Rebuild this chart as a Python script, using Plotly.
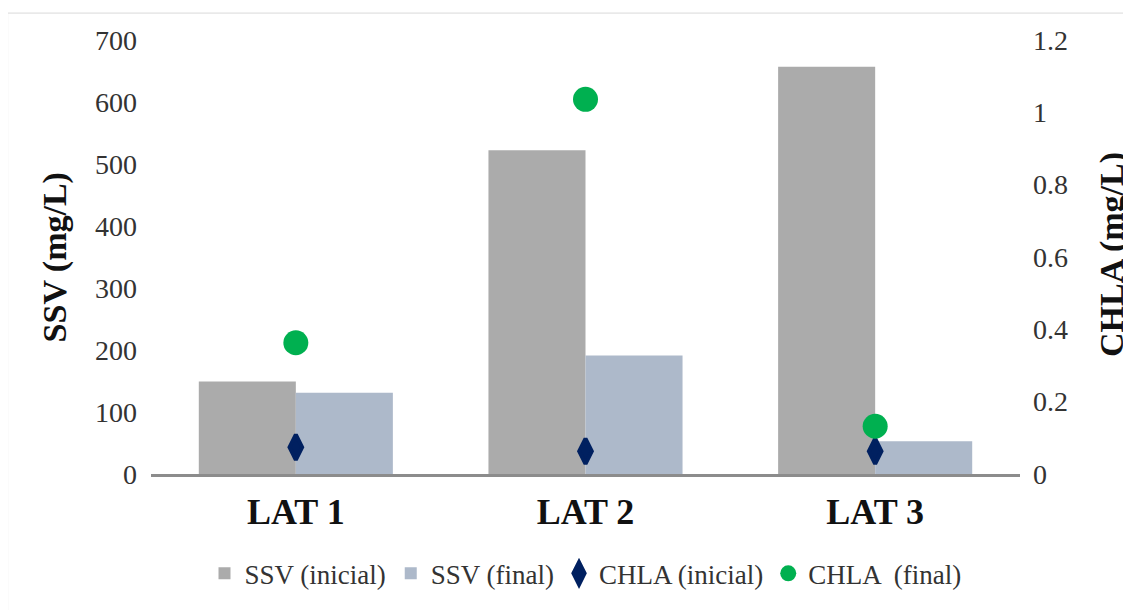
import plotly.graph_objects as go

categories = ["LAT 1", "LAT 2", "LAT 3"]
ssv_inicial = [149, 522, 657]
ssv_final = [131, 191, 53]
chla_inicial = [0.074, 0.063, 0.063]
chla_final = [0.363, 1.036, 0.132]
left_ticks = [0, 100, 200, 300, 400, 500, 600, 700]
right_ticks = [0, 0.2, 0.4, 0.6, 0.8, 1.0, 1.2]
right_labels = ["0", "0.2", "0.4", "0.6", "0.8", "1", "1.2"]

font = "Liberation Serif, Times New Roman, serif"

fig = go.Figure()
fig.add_trace(go.Bar(name="SSV (inicial)", x=categories, y=ssv_inicial,
                     marker=dict(color="#ababab", line=dict(width=0))))
fig.add_trace(go.Bar(name="SSV (final)", x=categories, y=ssv_final,
                     marker=dict(color="#adb9ca", line=dict(width=0))))
fig.add_trace(go.Scatter(name="CHLA (inicial)", x=categories, y=chla_inicial, yaxis="y2",
                         mode="markers",
                         marker=dict(symbol="diamond-tall", size=18, color="#002060",
                                     line=dict(color="#002060", width=4))))
fig.add_trace(go.Scatter(name="CHLA  (final)", x=categories, y=chla_final, yaxis="y2",
                         mode="markers",
                         marker=dict(symbol="circle", size=25, color="#00b050")))

# page body has an 8px margin: figure is sized/offset to compensate
fig.update_layout(
    width=1123, height=602,
    margin=dict(l=143, r=111, t=32, b=125),
    paper_bgcolor="white", plot_bgcolor="white",
    barmode="group", bargap=0.33, bargroupgap=0,
    font=dict(family=font, size=28, color="#333333"),
    showlegend=True,
    legend=dict(orientation="h", x=0.5, xanchor="center", y=-0.23, yanchor="middle",
                font=dict(family=font, size=27, color="#333333"),
                itemwidth=30, traceorder="normal"),
    xaxis=dict(showgrid=False, showline=True, linecolor="#8c8c8c", linewidth=3,
               ticks="", tickfont=dict(family=font, size=36, color="#111111", weight="bold"),
               ticklabelstandoff=4),
    yaxis=dict(range=[0, 700], tickvals=left_ticks, showgrid=False, zeroline=False,
               showline=False, ticks="", ticklabelstandoff=13,
               tickfont=dict(family=font, size=28, color="#333333")),
    yaxis2=dict(range=[0, 1.2], tickvals=right_ticks, ticktext=right_labels,
                overlaying="y", side="right", showgrid=False, zeroline=False,
                showline=False, ticks="", ticklabelstandoff=12,
                tickfont=dict(family=font, size=28, color="#333333")),
)

fig.add_annotation(text="<b>SSV (mg/L)</b>", xref="paper", yref="paper",
                   x=-0.110, y=0.5, xanchor="center", yanchor="middle",
                   textangle=-90, showarrow=False,
                   font=dict(family=font, size=34, color="#111111"))
fig.add_annotation(text="<b>CHLA (mg/L)</b>", xref="paper", yref="paper",
                   x=1.106, y=0.505, xanchor="center", yanchor="middle",
                   textangle=-90, showarrow=False,
                   font=dict(family=font, size=34, color="#111111"))

fig.add_shape(type="rect", xref="paper", yref="paper",
              x0=-0.165, x1=1.3, y0=-0.5, y1=1.062,
              line=dict(color="#d9d9d9", width=1), fillcolor="rgba(0,0,0,0)", layer="below")

fig.write_html("out.html")
